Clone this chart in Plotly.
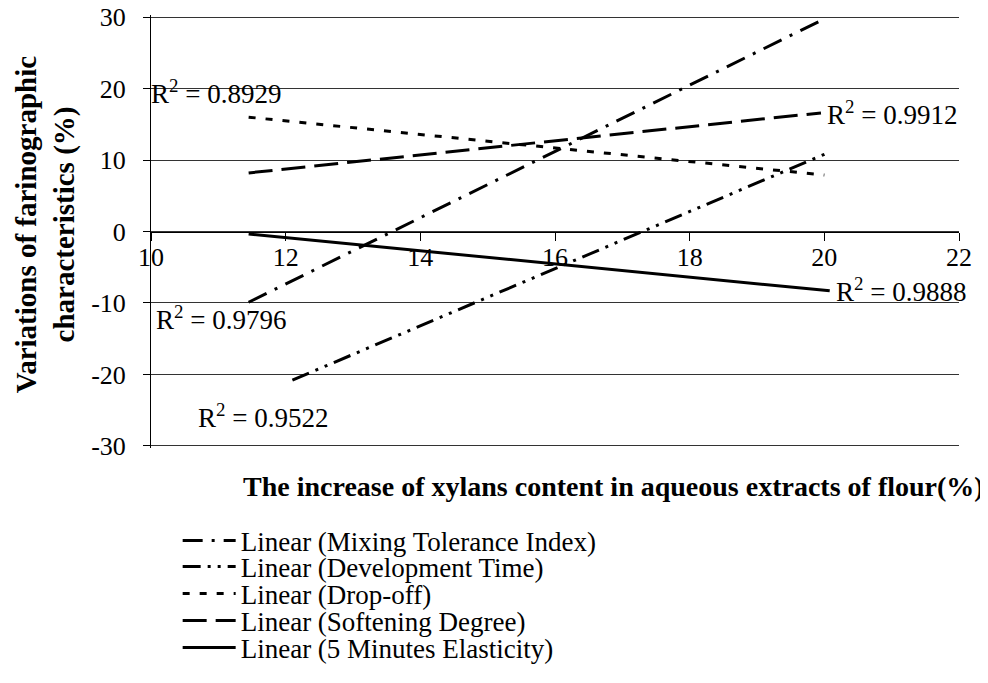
import plotly.graph_objects as go

# Trendline endpoints
series_names = [
    "Linear (Mixing Tolerance Index)",
    "Linear (Development Time)",
    "Linear (Drop-off)",
    "Linear (Softening Degree)",
    "Linear (5 Minutes Elasticity)",
]
mixing_x = [11.45, 20.03]
mixing_y = [-9.9, 29.9]
development_x = [12.1, 20.05]
development_y = [-20.8, 11.0]
dropoff_x = [11.45, 20.0]
dropoff_y = [16.0, 7.9]
softening_x = [11.45, 19.95]
softening_y = [8.2, 16.6]
elasticity_x = [11.45, 20.08]
elasticity_y = [-0.35, -8.3]

r2_labels = ["0.9796", "0.9522", "0.8929", "0.9912", "0.9888"]
r2_x = [11.04, 11.66, 10.97, 21.0, 21.14]
r2_y = [-12.1, -25.8, 19.5, 16.6, -8.2]

x_ticks = [10, 12, 14, 16, 18, 20, 22]
y_ticks = [-30, -20, -10, 0, 10, 20, 30]
y_tick_text = ["-30", "-20", "-10", "0", "10", "20", "30"]

FONT = "Liberation Serif"

# layout geometry (screen px; page has an 8px body margin)
M_L, M_R, M_T, M_B = 143, 37, 7, 243
PLOT_BOTTOM = 683 - M_B + 8
PLOT_H = 683 - M_T - M_B


def py(screen_y):
    return (PLOT_BOTTOM - screen_y) / PLOT_H


fig = go.Figure()
xs = [mixing_x, development_x, dropoff_x, softening_x, elasticity_x]
ys = [mixing_y, development_y, dropoff_y, softening_y, elasticity_y]
dashes = ["20px,9px,3px,9px", "18px,7px,3px,7px,3px,7px", "7px,10px", "24px,9px", "solid"]
legend_ids = ["legend", "legend2", "legend3", "legend4", "legend5"]
for name, x, y, d, lg in zip(series_names, xs, ys, dashes, legend_ids):
    fig.add_trace(go.Scatter(x=x, y=y, mode="lines", name=name, legend=lg,
                             line=dict(color="black", width=3, dash=d)))

for lab, ax, ay in zip(r2_labels, r2_x, r2_y):
    fig.add_annotation(x=ax, y=ay, xref="x", yref="y", text="R<sup>2</sup> = " + lab,
                       xanchor="center", yanchor="middle",
                       showarrow=False, font=dict(family=FONT, size=27, color="black"))

fig.add_annotation(x=0.572, y=py(486.5), xref="paper", yref="paper", yanchor="middle",
                   xanchor="center",
                   text="<b>The increase of xylans content in aqueous extracts of flour(%)</b>",
                   showarrow=False, font=dict(family=FONT, size=28, color="black"))
fig.add_annotation(x=-0.131, y=py(225), xref="paper", yref="paper", textangle=-90,
                   xanchor="center", yanchor="middle",
                   text="<b>Variations of farinographic<br>characteristics (%)</b>",
                   showarrow=False, font=dict(family=FONT, size=29, color="black"))

row_y = [541, 567, 594, 621, 648]
legend_common = dict(x=0.033, xanchor="left", yanchor="middle",
                     font=dict(family=FONT, size=27, color="black"),
                     bgcolor="rgba(0,0,0,0)", itemwidth=53)
legends = {}
for lg, ry in zip(legend_ids, row_y):
    legends[lg] = dict(legend_common, y=py(ry))

fig.update_layout(
    width=988, height=683,
    margin=dict(l=M_L, r=M_R, t=M_T, b=M_B, autoexpand=False),
    plot_bgcolor="white", paper_bgcolor="white",
    font=dict(family=FONT, color="black", size=26),
    showlegend=True,
    xaxis=dict(range=[10, 22], tickvals=x_ticks, showgrid=False, zeroline=False,
               showline=True, linecolor="black", linewidth=1,
               ticks="outside", ticklen=8, tickcolor="black",
               anchor="free", position=30.3 / 60.6, ticklabelstandoff=-6,
               ticklabeloverflow="allow",
               tickfont=dict(family=FONT, size=26, color="black")),
    yaxis=dict(range=[-30.3, 30.3], tickvals=y_ticks, ticktext=y_tick_text,
               showgrid=True, gridcolor="#333333",
               gridwidth=1, zeroline=False, showline=True, linecolor="black",
               linewidth=1, ticks="outside", ticklen=7, tickcolor="black",
               ticklabelstandoff=12, ticklabeloverflow="allow",
               tickfont=dict(family=FONT, size=26, color="black")),
    **legends,
)

fig.write_html("out.html")
